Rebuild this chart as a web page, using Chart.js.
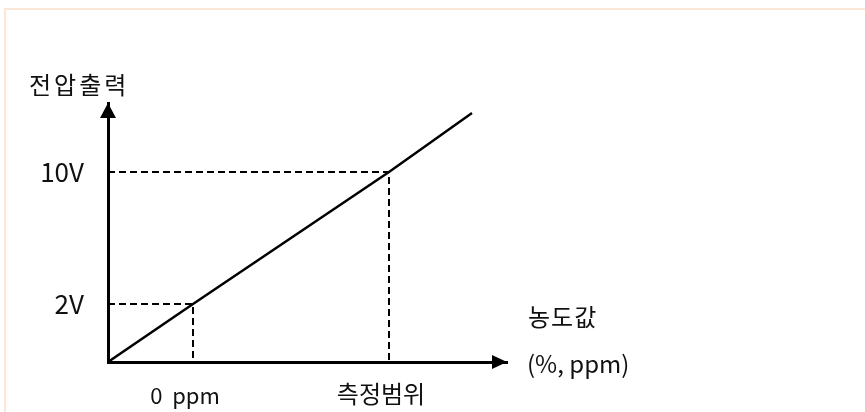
<!DOCTYPE html>
<html>
<head>
<meta charset="utf-8">
<script src="https://cdn.jsdelivr.net/npm/chart.js@4"></script>
<style>
  html, body { margin: 0; padding: 0; background: #ffffff; }
  canvas { display: block; }
</style>
</head>
<body>
<canvas id="chart" width="865" height="412"></canvas>
<script>
// axis units are arbitrary: the sketch is not drawn to scale
const xTickValues = [8.5, 28.1];
const xTickLabels = ["0  ppm", "측정범위"];
const yTickValues = [5.8, 19.0];
const yTickLabels = ["2V", "10V"];

const outputX = [0, 8.5, 28.1, 36.4];
const outputY = [0, 5.8, 19.0, 24.9];

const xMax = 39.9;
const yMax = 25.9;

const yAxisTitle = "전압출력";
const xAxisTitle = ["농도값", "(%, ppm)"];

const FONT = "'Noto Sans CJK KR', 'Noto Sans', sans-serif";

function toPoints(xs, ys) {
  const pts = [];
  for (let i = 0; i < xs.length; i++) {
    pts.push({ x: xs[i], y: ys[i] });
  }
  return pts;
}

// dashed guide: from the y axis across to the line, then down to the x axis
function guide(i) {
  return toPoints(
    [0, xTickValues[i], xTickValues[i]],
    [yTickValues[i], yTickValues[i], 0]
  );
}

const sketchPlugin = {
  id: "sketch",
  beforeDraw(chart) {
    const ctx = chart.ctx;
    ctx.save();
    ctx.fillStyle = "#ffffff";
    ctx.fillRect(0, 0, chart.width, chart.height);
    ctx.fillStyle = "#fce6d8";
    ctx.fillRect(4, 8, chart.width - 4, 2);
    ctx.fillRect(4, 8, 2, chart.height - 8);
    ctx.restore();
  },
  afterDraw(chart) {
    const ctx = chart.ctx;
    const area = chart.chartArea;
    ctx.save();
    ctx.fillStyle = "#000000";

    // arrow heads
    ctx.beginPath();
    ctx.moveTo(area.left, area.top);
    ctx.lineTo(area.left - 8, area.top + 15);
    ctx.lineTo(area.left + 8, area.top + 15);
    ctx.closePath();
    ctx.fill();

    ctx.beginPath();
    ctx.moveTo(area.right, area.bottom);
    ctx.lineTo(area.right - 15, area.bottom - 7);
    ctx.lineTo(area.right - 15, area.bottom + 7);
    ctx.closePath();
    ctx.fill();

    // axis titles
    ctx.fillStyle = "#111111";
    ctx.textBaseline = "middle";
    ctx.textAlign = "left";
    ctx.font = "24px " + FONT;
    ctx.letterSpacing = "3px";
    ctx.fillText(yAxisTitle, area.left - 79, area.top - 18);
    ctx.letterSpacing = "1px";
    ctx.fillText(xAxisTitle[0], area.right + 21, area.bottom - 45);
    ctx.letterSpacing = "0px";
    ctx.fillText(xAxisTitle[1], area.right + 20, area.bottom + 2);
    ctx.restore();
  },
};

new Chart(document.querySelector("#chart").getContext("2d"), {
  type: "scatter",
  data: {
    datasets: [
      {
        data: toPoints(outputX, outputY),
        showLine: true,
        borderColor: "#000000",
        borderWidth: 2.5,
        pointRadius: 0,
      },
      {
        data: guide(0),
        showLine: true,
        borderColor: "#000000",
        borderWidth: 2,
        borderDash: [7, 4],
        pointRadius: 0,
      },
      {
        data: guide(1),
        showLine: true,
        borderColor: "#000000",
        borderWidth: 2,
        borderDash: [7, 4],
        pointRadius: 0,
      },
    ],
  },
  options: {
    responsive: false,
    animation: false,
    layout: {
      padding: { left: 18, right: 358, top: 103, bottom: 0 },
    },
    plugins: {
      legend: { display: false },
      tooltip: { enabled: false },
    },
    scales: {
      x: {
        type: "linear",
        min: 0,
        max: xMax,
        afterBuildTicks: (axis) => {
          axis.ticks = xTickValues.map((v) => ({ value: v }));
        },
        afterFit: (axis) => { axis.height = 50; },
        grid: { display: false, drawTicks: false, tickLength: 0 },
        border: { display: true, color: "#000000", width: 3 },
        ticks: {
          autoSkip: false,
          maxRotation: 0,
          padding: 19,
          labelOffset: -8,
          color: "#111111",
          font: (c) => (c.index === 0
            ? { family: FONT, size: 22, lineHeight: 1.3 }
            : { family: FONT, size: 24, lineHeight: 1.1 }),
          callback: (value, index) => xTickLabels[index],
        },
      },
      y: {
        type: "linear",
        min: 0,
        max: yMax,
        afterBuildTicks: (axis) => {
          axis.ticks = yTickValues.map((v) => ({ value: v }));
        },
        afterFit: (axis) => { axis.width = 90; },
        grid: { display: false, drawTicks: false, tickLength: 0 },
        border: { display: true, color: "#000000", width: 3 },
        ticks: {
          autoSkip: false,
          padding: 24,
          color: "#111111",
          font: { family: FONT, size: 26 },
          callback: (value, index) => yTickLabels[index],
        },
      },
    },
  },
  plugins: [sketchPlugin],
});
</script>
</body>
</html>
